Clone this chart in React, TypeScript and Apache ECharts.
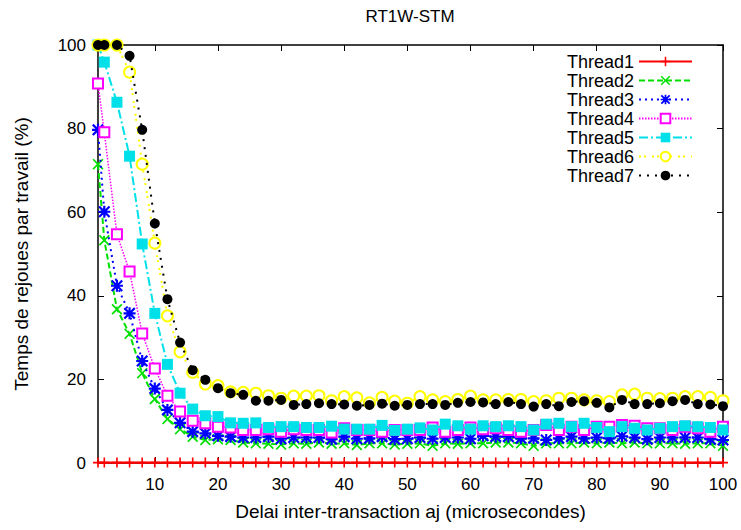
import React, { useEffect, useRef } from "react";
import * as echarts from "echarts";

const xValues = [1, 2, 4, 6, 8, 10, 12, 14, 16, 18, 20, 22, 24, 26, 28, 30, 32, 34, 36, 38, 40, 42, 44, 46, 48, 50, 52, 54, 56, 58, 60, 62, 64, 66, 68, 70, 72, 74, 76, 78, 80, 82, 84, 86, 88, 90, 92, 94, 96, 98, 100];
const xTicks = [10, 20, 30, 40, 50, 60, 70, 80, 90, 100];

const thread1 = [0.1, 0.1, 0.1, 0.1, 0.1, 0.1, 0.1, 0.1, 0.1, 0.1, 0.1, 0.1, 0.1, 0.1, 0.1, 0.1, 0.1, 0.1, 0.1, 0.1, 0.1, 0.1, 0.1, 0.1, 0.1, 0.1, 0.1, 0.1, 0.1, 0.1, 0.1, 0.1, 0.1, 0.1, 0.1, 0.1, 0.1, 0.1, 0.1, 0.1, 0.1, 0.1, 0.1, 0.1, 0.1, 0.1, 0.1, 0.1, 0.1, 0.1, 0.1];
const thread2 = [71.5, 53.3, 36.8, 30.9, 21.5, 15.3, 10.5, 8.1, 6.3, 5.5, 5.7, 5.5,
  4.9, 4.7, 4.6, 4.4, 4.7, 4.6, 4.9, 4.6, 4.7, 4.3, 4.7, 4.7, 4.4, 4.6, 4.7, 4.1, 4.7, 4.6, 4.7, 4.7,
  4.9, 4.9, 4.7, 4.1, 4.7, 4.7, 4.7, 4.9, 4.7, 4.9, 4.7, 4.9, 4.7, 4.7, 4.7, 4.6, 4.7, 4.7, 4.1];
const thread3 = [79.7, 60.1, 42.4, 35.8, 24.4, 17.8, 12.7, 9.6, 7.5, 7.1, 6.5, 6.3,
  6.1, 6.1, 6.3, 5.8, 6.1, 6.1, 6.1, 5.7, 6.3, 5.8, 5.9, 6.3, 5.7, 5.8, 6.1, 5.8, 6.1, 6.1, 5.8, 6.5,
  6.3, 6.3, 5.9, 5.9, 5.5, 5.9, 6.3, 5.9, 6.1, 5.9, 6.4, 6.1, 5.7, 6.1, 6.1, 6.1, 6.1, 5.7, 5.5];
const thread4 = [90.8, 79.1, 54.7, 45.8, 31.0, 22.6, 16.1, 12.3, 10.1, 9.5, 8.7, 8.5,
  7.9, 7.9, 8.1, 7.5, 8.1, 7.9, 7.9, 7.3, 8.3, 7.9, 7.9, 7.5, 7.9, 7.9, 7.9, 8.5, 7.5, 7.9, 8.5, 8.1,
  8.3, 7.9, 7.5, 7.9, 9.1, 7.9, 8.7, 7.9, 8.7, 8.7, 9.1, 8.9, 8.3, 8.3, 7.9, 8.7, 8.3, 7.5, 8.7];
const thread5 = [100, 95.9, 86.3, 73.4, 52.4, 35.8, 23.6, 16.7, 12.9, 11.3, 11.1, 9.6,
  9.5, 9.6, 8.5, 8.7, 8.7, 8.5, 8.5, 8.8, 8.1, 8.1, 8.1, 9.0, 7.8, 8.1, 8.4, 7.9, 9.3, 8.9, 8.1, 8.9,
  8.7, 8.9, 8.7, 7.9, 9.3, 9.5, 8.7, 9.5, 8.5, 7.5, 8.7, 8.3, 7.9, 8.3, 8.7, 8.9, 8.7, 8.5, 7.9];
const thread6 = [100, 100, 100, 93.5, 71.5, 52.6, 35.2, 26.6, 21.7, 18.9, 18.5, 17.0,
  16.9, 16.7, 16.1, 15.5, 16.0, 16.0, 16.1, 14.9, 15.9, 15.6, 14.4, 15.7, 14.8, 14.3, 15.9, 15.1, 14.7, 15.2, 16.0, 15.1,
  15.1, 15.2, 15.2, 14.7, 14.9, 15.5, 15.5, 15.1, 14.9, 14.7, 16.3, 16.5, 15.5, 15.4, 15.5, 15.9, 15.9, 15.7, 14.9];
const thread7 = [100, 100, 100, 97.4, 79.7, 57.3, 39.2, 28.8, 22.2, 19.9, 17.9, 16.7,
  16.3, 14.9, 14.9, 15.1, 13.9, 14.1, 14.3, 14.1, 14.0, 13.7, 13.9, 14.2, 13.7, 13.9, 14.1, 14.1, 13.9, 14.4, 14.6, 14.5,
  14.1, 14.6, 14.1, 13.5, 14.1, 13.6, 14.6, 14.8, 14.4, 13.3, 15.1, 14.1, 14.1, 14.3, 14.8, 15.1, 14.1, 14.0, 13.6];

const seriesNames = ["Thread1", "Thread2", "Thread3", "Thread4", "Thread5", "Thread6", "Thread7"];
const seriesValues = [thread1, thread2, thread3, thread4, thread5, thread6, thread7];

const PLUS = "path://M4.2,0H5.8V4.2H10V5.8H5.8V10H4.2V5.8H0V4.2H4.2Z";
const CROSS = "path://M0,1.1L1.1,0L5,3.9L8.9,0L10,1.1L6.1,5L10,8.9L8.9,10L5,6.1L1.1,10L0,8.9L3.9,5Z";
const STAR = "path://M4.1,0H5.9V4.1H10V5.9H5.9V10H4.1V5.9H0V4.1H4.1Z M0,1.3L1.3,0L5,3.7L8.7,0L10,1.3L6.3,5L10,8.7L8.7,10L5,6.3L1.3,10L0,8.7L3.7,5Z";

const styles = [
  { color: "#ff0000", symbol: PLUS, size: 10, type: "solid", width: 2.2, empty: false },
  { color: "#00e000", symbol: CROSS, size: 11, type: [6, 3], width: 2, empty: false },
  { color: "#0000ff", symbol: STAR, size: 12, type: [2, 4], width: 2, empty: false },
  { color: "#ff00ff", symbol: "emptyRect", size: 10, type: [1.5, 1.5], width: 1.5, empty: true },
  { color: "#00e0e8", symbol: "rect", size: 11, type: [9, 3, 2, 3], width: 2, empty: false },
  { color: "#ffff00", symbol: "emptyCircle", size: 11, type: [2, 3, 2, 6], width: 2, empty: true },
  { color: "#000000", symbol: "circle", size: 10, type: [2, 6], width: 2, empty: false },
];

const FONT = "'Liberation Sans', Arial, Helvetica, sans-serif";

export default function App() {
  const ref = useRef<HTMLDivElement>(null);
  useEffect(() => {
    document.body.style.margin = "0";
    const chart = echarts.init(ref.current!, null, { renderer: "svg" });
    const axisLine = { show: true, onZero: false, lineStyle: { color: "#000", width: 1.5 } };
    const tick = { show: true, inside: true, length: 6, lineStyle: { color: "#000", width: 1 } };
    const series = seriesNames.map((name, i) => {
      const s = styles[i];
      return {
        name,
        type: "line",
        xAxisIndex: 0,
        yAxisIndex: 0,
        data: xValues.map((x, j) => [x, seriesValues[i][j]]),
        symbol: s.symbol,
        symbolSize: s.size,
        showAllSymbol: true,
        clip: false,
        lineStyle: { color: s.color, width: s.width, type: s.type },
        itemStyle: s.empty
          ? { color: s.color, borderColor: s.color, borderWidth: 2.2 }
          : { color: s.color, borderWidth: 0 },
        z: 3 + i,
      };
    });
    chart.setOption({
      animation: false,
      backgroundColor: "#ffffff",
      textStyle: { fontFamily: FONT },
      grid: { left: 98, right: 18, top: 45, bottom: 67, containLabel: false },
      graphic: [
        {
          type: "text",
          x: 410,
          y: 16,
          style: { text: "RT1W-STM", fontSize: 17, fontFamily: FONT, fill: "#000", textAlign: "center", textVerticalAlign: "middle" },
        },
      ],
      legend: {
        orient: "vertical",
        right: 43,
        top: 47,
        align: "right",
        itemWidth: 53,
        itemHeight: 12,
        itemGap: 0,
        textStyle: { fontSize: 18, fontFamily: FONT, color: "#000", lineHeight: 19 },
        data: seriesNames,
      },
      xAxis: [
        {
          type: "value",
          position: "bottom",
          min: 1,
          max: 100,
          axisLine,
          axisTick: { ...tick, customValues: xTicks },
          axisLabel: { customValues: xTicks, fontSize: 17, color: "#000", margin: 13, fontFamily: FONT },
          splitLine: { show: false },
          name: "Delai inter-transaction aj (microsecondes)",
          nameLocation: "middle",
          nameGap: 39,
          nameTextStyle: { fontSize: 19, color: "#000", fontFamily: FONT },
        },
        {
          type: "value",
          position: "top",
          min: 1,
          max: 100,
          axisLine,
          axisTick: { ...tick, customValues: xTicks },
          axisLabel: { show: false },
          splitLine: { show: false },
        },
      ],
      yAxis: [
        {
          type: "value",
          position: "left",
          min: 0,
          max: 100,
          interval: 20,
          axisLine,
          axisTick: tick,
          axisLabel: { fontSize: 17, color: "#000", margin: 12, fontFamily: FONT },
          splitLine: { show: false },
          name: "Temps de rejoues par travail (%)",
          nameLocation: "middle",
          nameGap: 67,
          nameRotate: 90,
          nameTextStyle: { fontSize: 19, color: "#000", fontFamily: FONT },
        },
        {
          type: "value",
          position: "right",
          min: 0,
          max: 100,
          interval: 20,
          axisLine,
          axisTick: tick,
          axisLabel: { show: false },
          splitLine: { show: false },
        },
      ],
      series,
    });
    return () => chart.dispose();
  }, []);
  return <div ref={ref} style={{ width: 741, height: 530 }} />;
}
